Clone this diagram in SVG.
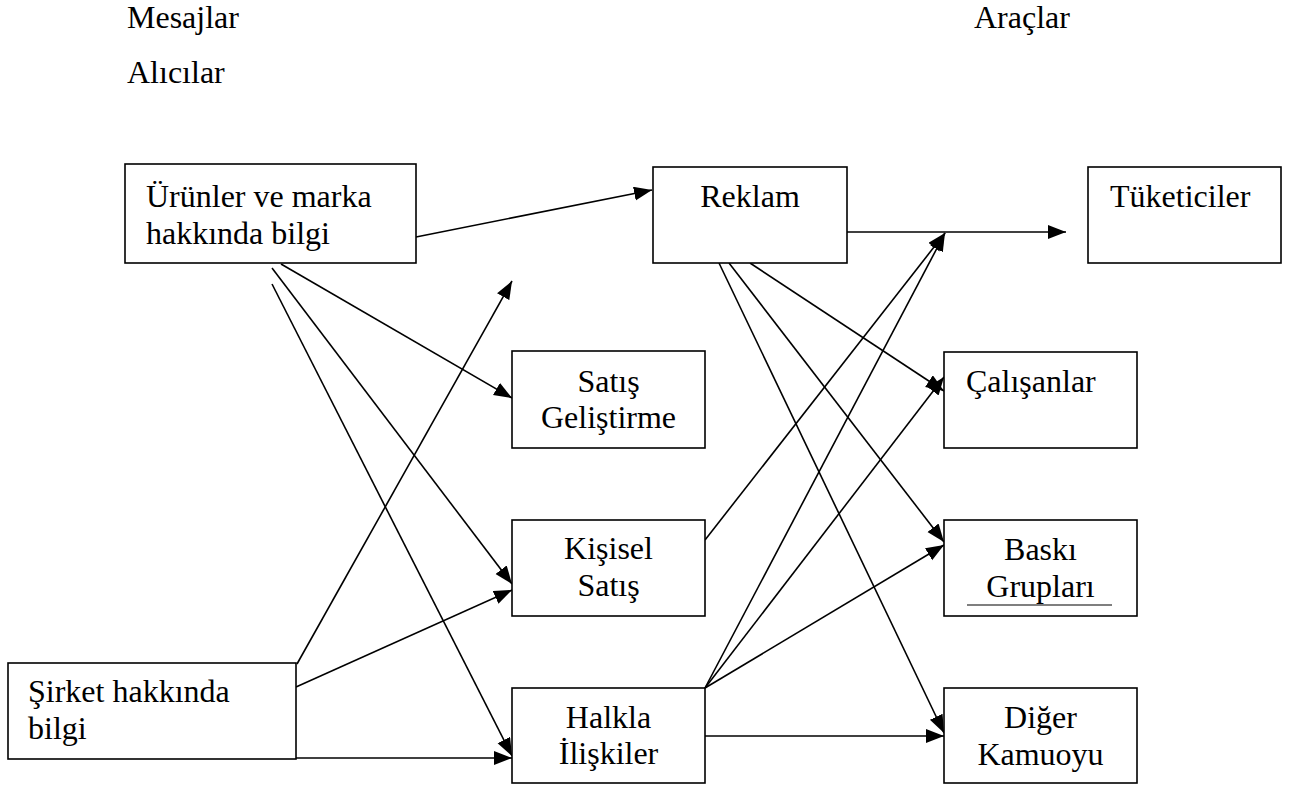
<svg xmlns="http://www.w3.org/2000/svg" width="1296" height="789" viewBox="0 0 1296 789">
<style>
.box{fill:#fff;stroke:#000;stroke-width:1.6}
.t{font-family:"Liberation Serif","Times New Roman",serif;font-size:32px;fill:#000}
.c{text-anchor:middle}
.ln{stroke:#000;stroke-width:1.6;fill:none;marker-end:url(#ah)}
</style>
<defs>
<marker id="ah" markerUnits="userSpaceOnUse" markerWidth="19" markerHeight="15" refX="18" refY="7" orient="auto">
<path d="M0,0 L18,7 L0,14 z" fill="#000"/>
</marker>
</defs>
<rect width="1296" height="789" fill="#fff"/>
<g id="headers">
<text class="t" x="127" y="28">Mesajlar</text>
<text class="t" x="974" y="28">Araçlar</text>
<text class="t" x="127" y="83">Alıcılar</text>
</g>
<g id="connectors">
<line class="ln" x1="416" y1="237" x2="652" y2="190"/>
<line class="ln" x1="281" y1="264" x2="512" y2="398"/>
<line class="ln" x1="272" y1="268" x2="512" y2="584"/>
<line class="ln" x1="272" y1="284" x2="512" y2="756"/>
<line class="ln" x1="297" y1="664" x2="512" y2="281"/>
<line class="ln" x1="296" y1="687" x2="512" y2="590"/>
<line class="ln" x1="296" y1="758" x2="512" y2="758"/>
<line class="ln" x1="847" y1="232" x2="1066" y2="232"/>
<line class="ln" x1="719" y1="263" x2="944" y2="733"/>
<line class="ln" x1="729" y1="263" x2="944" y2="542"/>
<line class="ln" x1="750" y1="263" x2="944" y2="391"/>
<line class="ln" x1="705" y1="540" x2="945" y2="233"/>
<line class="ln" x1="705" y1="688" x2="945" y2="233"/>
<line class="ln" x1="705" y1="688" x2="944" y2="377"/>
<line class="ln" x1="705" y1="688" x2="944" y2="545"/>
<line class="ln" x1="705" y1="736" x2="944" y2="736"/>
</g>
<g id="n-urunler">
<rect class="box" x="125" y="164" width="291" height="99"/>
<text class="t" x="146" y="207">Ürünler ve marka</text>
<text class="t" x="146" y="244">hakkında bilgi</text>
</g>
<g id="n-reklam">
<rect class="box" x="653" y="167" width="194" height="96"/>
<text class="t c" x="750" y="207">Reklam</text>
</g>
<g id="n-tuketiciler">
<rect class="box" x="1088" y="167" width="193" height="96"/>
<text class="t" x="1110" y="207">Tüketiciler</text>
</g>
<g id="n-satis-gelistirme">
<rect class="box" x="512" y="351" width="193" height="97"/>
<text class="t c" x="608.5" y="392">Satış</text>
<text class="t c" x="608.5" y="428">Geliştirme</text>
</g>
<g id="n-kisisel-satis">
<rect class="box" x="512" y="520" width="193" height="96"/>
<text class="t c" x="608.5" y="559">Kişisel</text>
<text class="t c" x="608.5" y="596">Satış</text>
</g>
<g id="n-halkla">
<rect class="box" x="512" y="688" width="193" height="95"/>
<text class="t c" x="608.5" y="728">Halkla</text>
<text class="t c" x="608.5" y="764">İlişkiler</text>
</g>
<g id="n-calisanlar">
<rect class="box" x="944" y="352" width="193" height="96"/>
<text class="t" x="966" y="392">Çalışanlar</text>
</g>
<g id="n-baski">
<rect class="box" x="944" y="520" width="193" height="96"/>
<text class="t c" x="1040.5" y="560">Baskı</text>
<text class="t c" x="1040.5" y="597">Grupları</text>
<line x1="967" y1="605" x2="1112" y2="605" stroke="#000" stroke-width="1.2"/>
</g>
<g id="n-diger">
<rect class="box" x="944" y="688" width="193" height="95"/>
<text class="t c" x="1040.5" y="728">Diğer</text>
<text class="t c" x="1040.5" y="765">Kamuoyu</text>
</g>
<g id="n-sirket">
<rect class="box" x="8" y="663" width="288" height="96"/>
<text class="t" x="28" y="702">Şirket hakkında</text>
<text class="t" x="28" y="739">bilgi</text>
</g>
</svg>
